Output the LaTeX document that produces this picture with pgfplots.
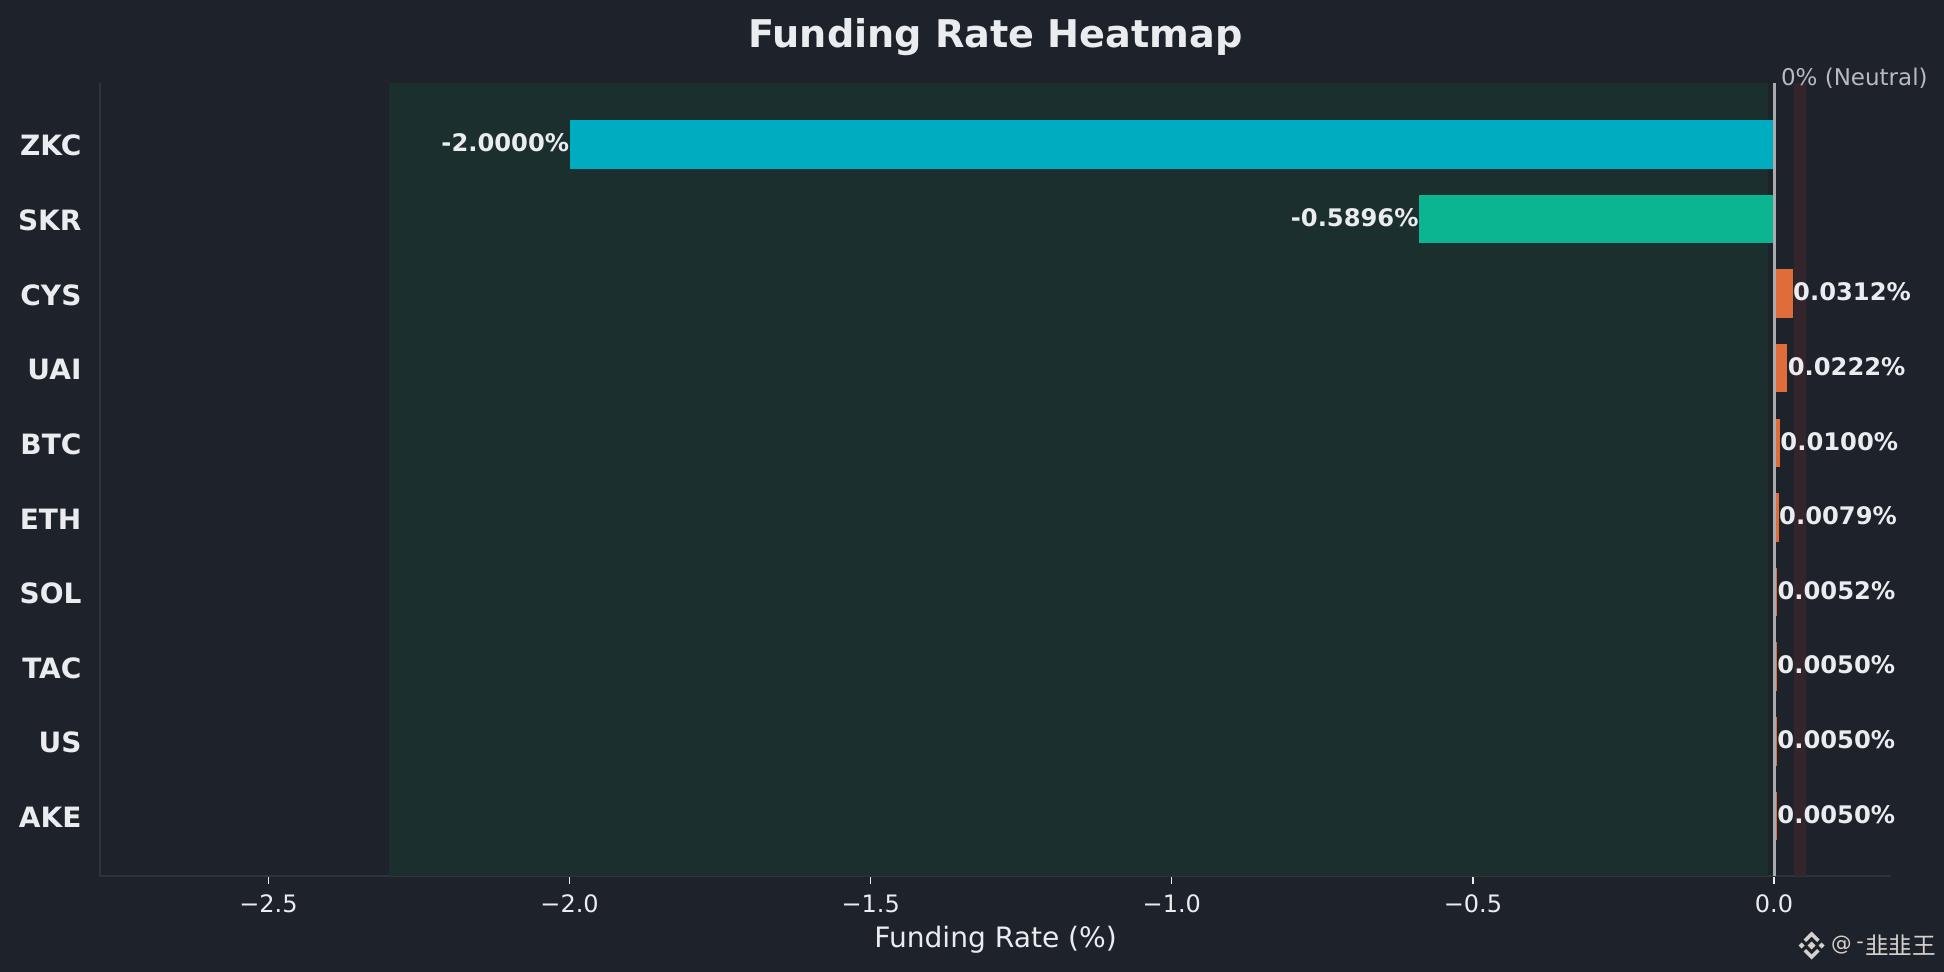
\documentclass[border=0pt]{standalone}
\usepackage{fontspec}
\setmainfont{DejaVu Sans}
\newfontfamily\cjk{Noto Sans CJK SC}
\usepackage{pgfplots}
\pgfplotsset{compat=1.18}
\definecolor{bg}{HTML}{1E222A}
\definecolor{txt}{HTML}{EAECEF}
\definecolor{spinec}{HTML}{2E333C}
\definecolor{greenspan}{HTML}{1C2F2F}
\definecolor{redspan}{HTML}{33252B}
\definecolor{teal1}{HTML}{00ACBF}
\definecolor{green1}{HTML}{0BB591}
\definecolor{orange1}{HTML}{E06C3A}
\definecolor{neutral}{HTML}{A9ABAF}
\definecolor{neutraltxt}{HTML}{B8BABD}
\definecolor{wm}{HTML}{D6D0CE}
\begin{document}
\begin{tikzpicture}
\useasboundingbox (0,0) rectangle (972pt,486pt);
\fill[bg] (0,0) rectangle (972pt,486pt);
\begin{axis}[
  at={(50.25pt,48pt)}, anchor=south west,
  scale only axis, width=895.1pt, height=396.5pt,
  xmin=-2.7788, xmax=0.1937, ymin=-0.804, ymax=9.821,
  axis x line*=bottom, axis y line*=left,
  axis line style={-, draw=spinec, line width=1pt},
  xtick={-2.5,-2,-1.5,-1,-0.5,0},
  xticklabels={−2.5,−2.0,−1.5,−1.0,−0.5,0.0},
  ytick={0,1,2,3,4,5,6,7,8,9},
  yticklabels={AKE,US,TAC,SOL,ETH,BTC,UAI,CYS,SKR,ZKC},
  tick align=outside,
  x tick style={draw=txt, line width=0.7pt},
  major tick length=4pt,
  y tick style={draw=none},
  x tick label style={font=\fontsize{12}{14}\selectfont, text=txt, yshift=-2pt},
  y tick label style={font=\fontsize{14}{17}\selectfont\bfseries, text=txt, xshift=-2pt, yshift=-0.7pt},
  xlabel={Funding Rate (\%)},
  xlabel style={font=\fontsize{14.05}{17}\selectfont, text=txt, yshift=0.2pt},
  title={Funding Rate Heatmap},
  title style={font=\fontsize{19.1}{23}\selectfont\bfseries, text=txt, yshift=4pt},
  nodes near coords={\pgfplotspointmeta},
  point meta=explicit symbolic,
  every node near coord/.append style={font=\fontsize{12.1}{14}\selectfont\bfseries, text=txt, inner xsep=0pt, yshift=0.8pt},
  bar width=0.65,
  clip=false,
]
\addplot[draw=none, fill=greenspan, nodes near coords={}] coordinates {(-2.3,-0.804) (-0.01,-0.804) (-0.01,9.821) (-2.3,9.821)} -- cycle;
\addplot[draw=none, fill=redspan, nodes near coords={}] coordinates {(0.0325,-0.804) (0.0525,-0.804) (0.0525,9.821) (0.0325,9.821)} -- cycle;
\addplot[xbar, bar shift=0pt, draw=none, fill=teal1, every node near coord/.append style={anchor=east}] coordinates {(-2.0000,9)[-2.0000\%]};
\addplot[xbar, bar shift=0pt, draw=none, fill=green1, every node near coord/.append style={anchor=east}] coordinates {(-0.5896,8)[-0.5896\%]};
\addplot[xbar, bar shift=0pt, draw=none, fill=orange1, every node near coord/.append style={anchor=west}] coordinates {(0.0312,7)[0.0312\%]};
\addplot[xbar, bar shift=0pt, draw=none, fill=orange1, every node near coord/.append style={anchor=west}] coordinates {(0.0222,6)[0.0222\%]};
\addplot[xbar, bar shift=0pt, draw=none, fill=orange1, every node near coord/.append style={anchor=west}] coordinates {(0.0100,5)[0.0100\%]};
\addplot[xbar, bar shift=0pt, draw=none, fill=orange1, every node near coord/.append style={anchor=west}] coordinates {(0.0079,4)[0.0079\%]};
\addplot[xbar, bar shift=0pt, draw=none, fill=orange1, every node near coord/.append style={anchor=west}] coordinates {(0.0052,3)[0.0052\%]};
\addplot[xbar, bar shift=0pt, draw=none, fill=orange1, every node near coord/.append style={anchor=west}] coordinates {(0.0050,2)[0.0050\%]};
\addplot[xbar, bar shift=0pt, draw=none, fill=orange1, every node near coord/.append style={anchor=west}] coordinates {(0.0050,1)[0.0050\%]};
\addplot[xbar, bar shift=0pt, draw=none, fill=orange1, every node near coord/.append style={anchor=west}] coordinates {(0.0050,0)[0.0050\%]};
\addplot[draw=neutral, line width=1.5pt, nodes near coords={}] coordinates {(0,-0.804) (0,9.821)};
\end{axis}
% annotations, placed in page units (1 px = 0.5 pt)
\node[anchor=west, inner sep=0pt, text=neutraltxt, font=\fontsize{11.5}{13}\selectfont] at (890.3pt,446.7pt) {0\% (Neutral)};
\begin{scope}[x=0.5pt,y=0.5pt,shift={(905.8pt,13.2pt)},fill=wm]
  \fill (0,4) -- (4,0) -- (0,-4) -- (-4,0) -- cycle;
  \fill (-13,0) -- (-10,3) -- (-7,0) -- (-10,-3) -- cycle;
  \fill (13,0) -- (10,3) -- (7,0) -- (10,-3) -- cycle;
  \fill (0,14) -- (8,6) -- (5.5,3.5) -- (0,9) -- (-5.5,3.5) -- (-8,6) -- cycle;
  \fill (0,-14) -- (8,-6) -- (5.5,-3.5) -- (0,-9) -- (-5.5,-3.5) -- (-8,-6) -- cycle;
\end{scope}
\node[anchor=west, inner sep=0pt, text=wm, font=\fontsize{10.3}{12}\selectfont] at (915.4pt,13.5pt) {@};
\node[anchor=west, inner sep=0pt, text=wm, font=\fontsize{10.3}{12}\selectfont] at (928pt,13.5pt) {-};
\node[anchor=west, inner sep=0pt, text=wm, font=\fontsize{11.8}{13}\selectfont\cjk] at (932.3pt,13.5pt) {韭韭王};
\end{tikzpicture}
\end{document}
